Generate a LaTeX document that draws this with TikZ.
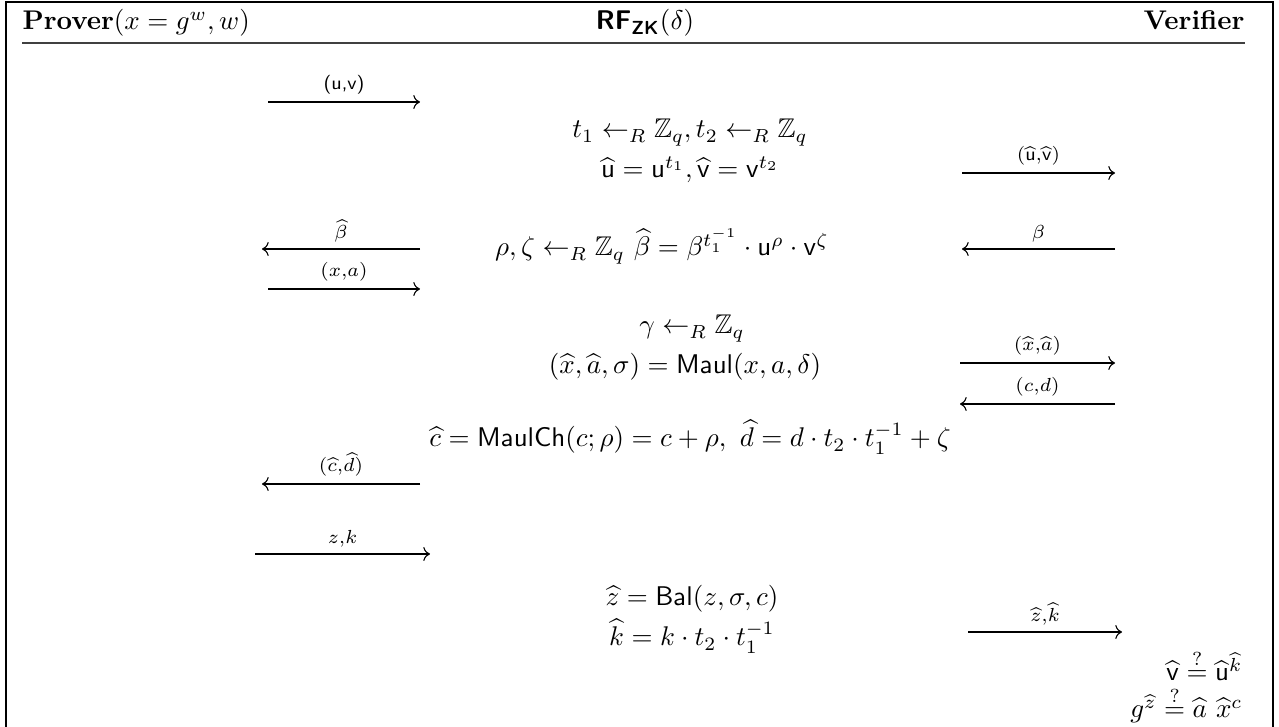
\documentclass[tikz,border=0pt]{standalone}
\usepackage{amsmath,amssymb}
\usetikzlibrary{arrows.meta,positioning}

\begin{document}
\begin{tikzpicture}[x=0.37pt,y=-0.37pt,
  msg/.style={->,line width=0.4pt},
  lbl/.style={font=\scriptsize,above=1.5pt,inner sep=1pt},
  comp/.style={anchor=base,inner sep=0pt},
  head/.style={inner sep=0pt}
]
  \useasboundingbox (0,0) rectangle (1279,727);
  % frame and header
  \draw[line width=0.8pt] (6,727) -- (6,2) -- (1273,2) -- (1273,727);
  \node[head,anchor=base west] (prover) at (22,30) {$\textbf{Prover}(x = g^w, w)$};
  \node[head,anchor=base] (rf) at (645,30) {$\textsf{\textbf{RF}}_{\textsf{\textbf{ZK}}}(\delta)$};
  \node[head,anchor=base east] (verifier) at (1245,30) {\textbf{Verifier}};
  \draw[line width=0.6pt,black!75] (22,43) -- (1245,43);

  % message end points
  \coordinate (uvA) at (268,102);  \coordinate (uvB) at (420,102);
  \coordinate (huvA) at (962,173); \coordinate (huvB) at (1115,173);
  \coordinate (hbA) at (262,249);  \coordinate (hbB) at (420,249);
  \coordinate (bA) at (962,249);   \coordinate (bB) at (1115,249);
  \coordinate (xaA) at (268,289);  \coordinate (xaB) at (420,289);
  \coordinate (hxaA) at (960,363); \coordinate (hxaB) at (1115,363);
  \coordinate (cdA) at (960,404);  \coordinate (cdB) at (1115,404);
  \coordinate (hcdA) at (262,484); \coordinate (hcdB) at (420,484);
  \coordinate (zkA) at (255,554);  \coordinate (zkB) at (430,554);
  \coordinate (hzkA) at (968,632); \coordinate (hzkB) at (1122,632);

  % messages
  \draw[msg] (uvA) -- node[lbl] (luv) {\textsf{(u,v)}} (uvB);
  \draw[msg] (huvA) -- node[lbl] (lhuv) {$(\widehat{\mathsf{u}}{,}\widehat{\mathsf{v}})$} (huvB);
  \draw[msg] (hbB) -- node[lbl] (lhb) {$\widehat{\beta}$} (hbA);
  \draw[msg] (bB) -- node[lbl] (lb) {$\beta$} (bA);
  \draw[msg] (xaA) -- node[lbl] (lxa) {$(x{,}a)$} (xaB);
  \draw[msg] (hxaA) -- node[lbl] (lhxa) {$(\widehat{x}{,}\widehat{a})$} (hxaB);
  \draw[msg] (cdB) -- node[lbl] (lcd) {$(c{,}d)$} (cdA);
  \draw[msg] (hcdB) -- node[lbl] (lhcd) {$(\widehat{c}{,}\widehat{d})$} (hcdA);
  \draw[msg] (zkA) -- node[lbl] (lzk) {$z{,}k$} (zkB);
  \draw[msg] (hzkA) -- node[lbl] (lhzk) {$\widehat{z}{,}\widehat{k}$} (hzkB);

  % RF computations
  \node[comp] (tt) at (690,138) {$t_1 \leftarrow_R \mathbb{Z}_q, t_2 \leftarrow_R \mathbb{Z}_q$};
  \node[comp] (uhat) at (690,178) {$\widehat{\mathsf{u}} = \mathsf{u}^{t_1}, \widehat{\mathsf{v}} = \mathsf{v}^{t_2}$};
  \node[comp] (rho) at (662,256) {$\rho,\zeta \leftarrow_R \mathbb{Z}_q\ \widehat{\beta} = \beta^{t_1^{-1}} \cdot \mathsf{u}^{\rho} \cdot \mathsf{v}^{\zeta}$};
  \node[comp] (gam) at (692,334) {$\gamma \leftarrow_R \mathbb{Z}_q$};
  \node[comp] (maul) at (685,374) {$(\widehat{x},\widehat{a},\sigma) = \mathsf{Maul}(x,a,\delta)$};
  \node[comp] (mch) at (690,447) {$\widehat{c} = \mathsf{MaulCh}(c;\rho) = c+\rho,\ \widehat{d} = d\cdot t_2\cdot t_1^{-1}+\zeta$};
  \node[comp] (bal) at (692,606) {$\widehat{z} = \mathsf{Bal}(z,\sigma,c)$};
  \node[comp] (khat) at (692,646) {$\widehat{k} = k\cdot t_2\cdot t_1^{-1}$};

  % verifier checks
  \node[comp,anchor=base east] (chk1) at (1243,681) {$\widehat{\mathsf{v}} \stackrel{?}{=} \widehat{\mathsf{u}}^{\widehat{k}}$};
  \node[comp,anchor=base east] (chk2) at (1243,718) {$g^{\widehat{z}} \stackrel{?}{=} \widehat{a}\ \widehat{x}^{c}$};
\end{tikzpicture}
\end{document}
